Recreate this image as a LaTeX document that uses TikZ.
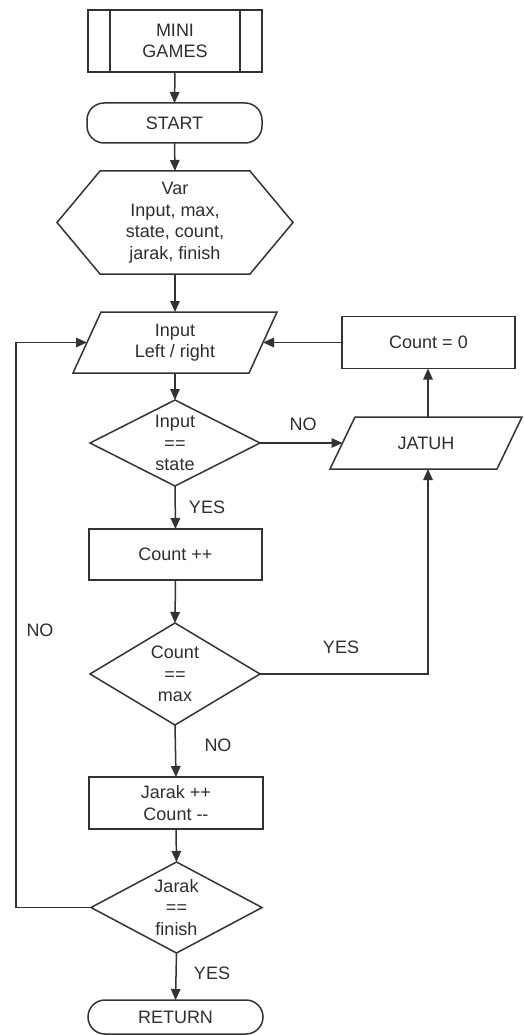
\documentclass[tikz,border=0pt]{standalone}
\usepackage{fontspec}
\setmainfont{Liberation Sans}
\usetikzlibrary{arrows.meta,shapes.geometric,calc}
\definecolor{ln}{HTML}{333333}
\definecolor{tx}{HTML}{2E2E2E}
\begin{document}
\begin{tikzpicture}[x=1pt,y=-1pt,
  every node/.style={font=\fontsize{18}{21.5}\selectfont, text=tx, align=center, inner sep=0pt, outer sep=0pt},
  line/.style={draw=ln, line width=1.5pt},
  arr/.style={line, -{Triangle[length=11pt,width=9.5pt]}},
  boxnode/.style={line, rectangle},
  termnode/.style={line, rectangle, rounded corners=17pt},
  decnode/.style={line, diamond},
  lbl/.style={font=\fontsize{18}{21.5}\selectfont}
]
\useasboundingbox (0,0) rectangle (523,1035);

% --- shapes ---
\node[boxnode, minimum width=174pt, minimum height=62pt] (mini) at (175,41) {MINI\\GAMES};
\draw[line] ([xshift=22pt]mini.north west) -- ([xshift=22pt]mini.south west);
\draw[line] ([xshift=-22pt]mini.north east) -- ([xshift=-22pt]mini.south east);

\node[termnode, minimum width=175pt, minimum height=40pt] (start) at (174.5,123) {START};

\node (var) at (175,222.5) {Var\\Input, max,\\state, count,\\jarak, finish};
\draw[line] ($(var)+(-75,-51.5)$) -- ($(var)+(75,-51.5)$) -- ($(var)+(118,0)$)
  -- ($(var)+(75,51.5)$) -- ($(var)+(-75,51.5)$) -- ($(var)+(-118,0)$) -- cycle;
\coordinate (varN) at ($(var)+(0,-51.5)$);
\coordinate (varS) at ($(var)+(0,51.5)$);

\node (inp) at (175,342.5) {Input\\Left / right};
\draw[line] ($(inp)+(-74,-30.5)$) -- ($(inp)+(102,-30.5)$) -- ($(inp)+(74,30.5)$)
  -- ($(inp)+(-102,30.5)$) -- cycle;
\coordinate (inpN) at ($(inp)+(0,-30.5)$);
\coordinate (inpS) at ($(inp)+(0,30.5)$);
\coordinate (inpE) at ($(inp)+(88,0)$);
\coordinate (inpW) at ($(inp)+(-88,0)$);

\node[boxnode, minimum width=173pt, minimum height=52pt] (c0) at (428.5,342.5) {Count = 0};

\node[decnode, minimum width=170pt, minimum height=86pt] (d1) at (175,443) {};
\node at (d1) {Input\\==\\state};

\node (jat) at (426,443) {JATUH};
\draw[line] ($(jat)+(-71,-26)$) -- ($(jat)+(96,-26)$) -- ($(jat)+(71,26)$)
  -- ($(jat)+(-96,26)$) -- cycle;
\coordinate (jatN) at ($(jat)+(2,-26)$);
\coordinate (jatS) at ($(jat)+(2,26)$);
\coordinate (jatW) at ($(jat)+(-83.5,0)$);

\node[boxnode, minimum width=173pt, minimum height=51pt] (cpp) at (175.5,554.5) {Count ++};

\node[decnode, minimum width=170pt, minimum height=102pt] (d2) at (175,674) {};
\node at (d2) {Count\\==\\max};

\node[boxnode, minimum width=174pt, minimum height=52pt] (jar) at (176,803) {Jarak ++\\Count {-}{-}};

\node[decnode, minimum width=171pt, minimum height=91pt] (d3) at (176.5,907.5) {};
\node at (d3) {Jarak\\==\\finish};

\node[termnode, minimum width=175pt, minimum height=34pt] (ret) at (175.5,1017) {RETURN};

% --- connectors ---
\draw[arr] (mini.south) -- (start.north);
\draw[arr] (start.south) -- (varN);
\draw[arr] (varS) -- (inpN);
\draw[arr] (inpS) -- (d1.north);
\draw[arr] (d1.east) -- (jatW);
\draw[arr] (jatN) -- (jatN |- c0.south);
\draw[arr] (c0.west) -- (inpE);
\draw[arr] (d1.south) -- (cpp.north);
\draw[arr] (cpp.south) -- (d2.north);
\coordinate (yesTurn) at (jatS |- d2.east);
\draw[arr] (d2.east) -- (yesTurn) -- (jatS);
\draw[arr] (d2.south) -- (jar.north);
\draw[arr] (jar.south) -- (d3.north);
\coordinate (loopB) at (16,907.5);
\coordinate (loopT) at (16,342.5);
\draw[arr] (d3.west) -- (loopB) -- (loopT) -- (inpW);
\draw[arr] (d3.south) -- (ret.north);

% --- labels ---
\node[lbl] (l1) at (303,424) {NO};
\node[lbl] (l2) at (207,507) {YES};
\node[lbl] (l3) at (341,647) {YES};
\node[lbl] (l4) at (218,745) {NO};
\node[lbl] (l5) at (40,630) {NO};
\node[lbl] (l6) at (212,973) {YES};
\end{tikzpicture}
\end{document}
